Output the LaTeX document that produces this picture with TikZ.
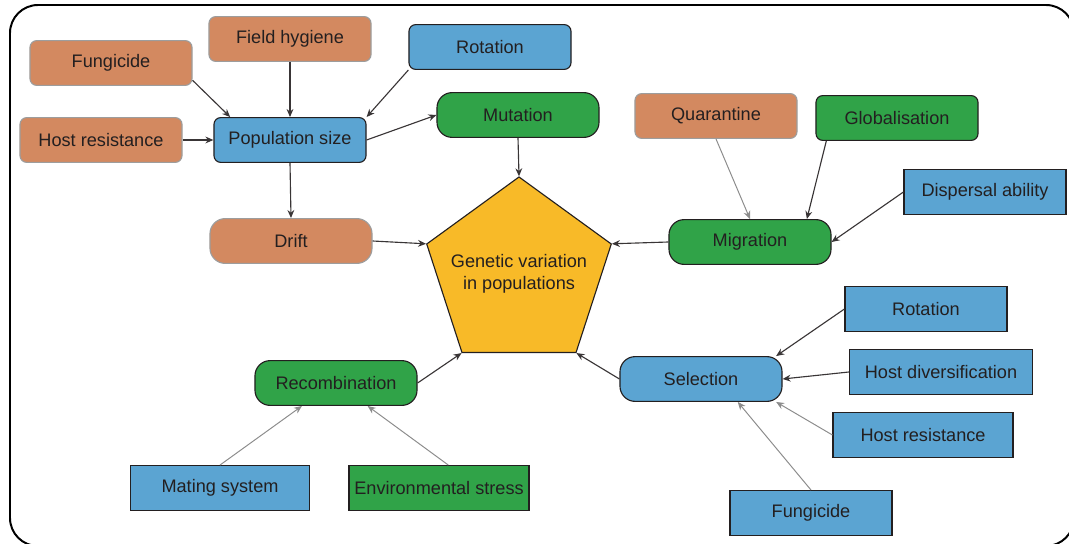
\documentclass[tikz,border=0pt]{standalone}
\usepackage{fontspec}
\setmainfont{Liberation Sans}
\usetikzlibrary{shapes.geometric, calc, arrows.meta}
\definecolor{boxorange}{RGB}{211,137,96}
\definecolor{boxblue}{RGB}{91,164,210}
\definecolor{boxgreen}{RGB}{48,163,72}
\definecolor{pentyellow}{RGB}{248,186,40}
\definecolor{inkdark}{RGB}{35,31,32}
\definecolor{inkgray}{RGB}{140,140,140}

\begin{document}
\begin{tikzpicture}[
  x=0.025cm, y=-0.025cm,
  box/.style={minimum width=4.05cm, minimum height=1.12cm, inner sep=2pt,
    text=inkdark, font=\fontsize{12.9}{15}\selectfont},
  ofill/.style={box, fill=boxorange, draw=inkgray!85, line width=0.8pt},
  bfill/.style={box, fill=boxblue, draw=inkdark, line width=0.8pt},
  gfill/.style={box, fill=boxgreen, draw=inkdark, line width=0.8pt},
  soft/.style={rounded corners=0.17cm},
  pill/.style={rounded corners=0.38cm},
  edge/.style={draw=inkdark!90, line width=0.8pt, -{Stealth[length=2mm, width=1.7mm]}},
  edgelight/.style={draw=inkgray, line width=0.7pt, -{Stealth[length=2mm, width=1.7mm]}},
  frame/.style={draw=black, line width=1.4pt, rounded corners=0.7cm}
]

\useasboundingbox (0,0) rectangle (1069,544);
\clip (0,0) rectangle (1069,544);
\draw[frame] (10,5) rectangle (1074,546);

% centre
\node[regular polygon, regular polygon sides=5, minimum size=4.85cm, inner sep=0pt,
  fill=pentyellow, draw=inkdark, line width=0.8pt] (gen) at (519,274) {};
\node[align=center, text=inkdark, font=\fontsize{12.9}{16}\selectfont]
  (gentext) at (gen.center) {Genetic variation\\in populations};

% population size and its drivers
\node[ofill, soft]               (fungA) at (111,63)  {Fungicide};
\node[ofill, soft]               (hyg)   at (290,39)  {Field hygiene};
\node[bfill, soft]               (rotA)  at (490,47)  {Rotation};
\node[ofill, soft]               (hostA) at (101,140) {Host resistance};
\node[bfill, soft, minimum width=3.8cm] (pop) at (290,140) {Population size};
\node[ofill, pill]               (drift) at (291,241) {Drift};
\node[gfill, pill]               (mut)   at (518,115) {Mutation};

% migration
\node[ofill, soft]               (quar)  at (716,116) {Quarantine};
\node[gfill, soft]               (glob)  at (897,118) {Globalisation};
\node[bfill]                     (disp)  at (985,192) {Dispersal ability};
\node[gfill, pill]               (mig)   at (750,242) {Migration};

% selection
\node[bfill]                     (rotB)  at (926,309) {Rotation};
\node[bfill, minimum width=4.575cm] (hdiv) at (941,372) {Host diversification};
\node[bfill, minimum width=4.5cm]   (hostB) at (923,435) {Host resistance};
\node[bfill]                     (fungB) at (811,513) {Fungicide};
\node[bfill, pill]               (sel)   at (701,379) {Selection};

% recombination
\node[gfill, pill]               (rec)   at (336,383) {Recombination};
\node[bfill, minimum width=4.475cm] (mate) at (220,488) {Mating system};
\node[gfill, minimum width=4.5cm]   (env)  at (439,488) {Environmental stress};

\foreach \a/\b in {fungA.348/pop.159, hyg.south/pop.north, rotA.south west/pop.north east,
    hostA.east/pop.west, pop.east/mut.west, pop.south/drift.north,
    drift.east/gen.corner 2, mut.south/gen.corner 1, mig.west/gen.corner 5,
    glob.198/mig.22, disp.west/mig.east,
    rotB.west/sel.17, hdiv.west/sel.east,
    sel.west/gen.corner 4, rec.east/gen.corner 3} {
  \draw[edge] (\a) -- (\b);
}
\foreach \a/\b in {quar.south/mig.north, hostB.west/sel.343, fungB.north/sel.328,
    mate.north/rec.214, env.68/rec.324} {
  \draw[edgelight] (\a) -- (\b);
}

\end{tikzpicture}
\end{document}
